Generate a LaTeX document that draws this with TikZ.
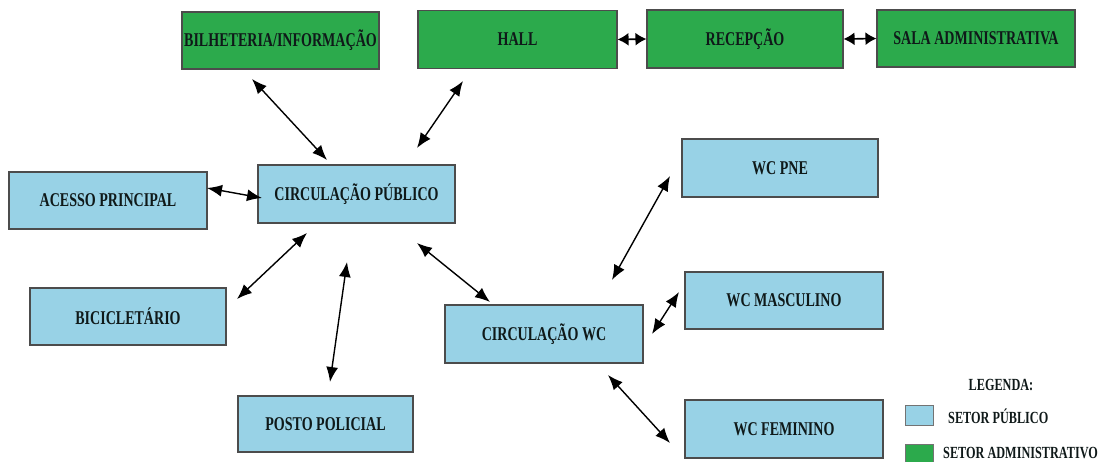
\documentclass[tikz,border=0pt]{standalone}
\usepackage{fontspec}
\newfontfamily\boxfont[FakeStretch=0.72]{Liberation Serif}
\usetikzlibrary{arrows.meta}
\definecolor{admgreen}{RGB}{44,170,76}
\definecolor{pubblue}{RGB}{152,210,230}
\definecolor{boxtext}{RGB}{15,25,25}
\tikzset{
  box/.style={draw=black!70,line width=1.1pt,inner sep=0pt,anchor=center,
    font=\boxfont\bfseries\fontsize{19.5}{19.5}\selectfont,text=boxtext},
  adm/.style={box,fill=admgreen},
  pub/.style={box,fill=pubblue},
  link/.style={line width=1.4pt,{Latex[length=15pt,width=12pt]}-{Latex[length=15pt,width=12pt]}},
  shortlink/.style={line width=1.6pt,{Latex[length=11pt,width=13pt]}-{Latex[length=11pt,width=13pt]}},
  legtext/.style={font=\boxfont\bfseries\fontsize{17}{17}\selectfont,text=boxtext,inner sep=0pt},
}
\begin{document}
\begin{tikzpicture}[x=1pt,y=-1pt]
\useasboundingbox (0,0) rectangle (1108,461);
% administrative boxes
\node[adm,minimum width=197pt,minimum height=57pt] (bil) at (280.5,40.5) {BILHETERIA/INFORMAÇÃO};
\node[adm,minimum width=199pt,minimum height=58pt] (hall) at (517.5,39.5) {HALL};
\node[adm,minimum width=196pt,minimum height=58pt] (rec) at (745,39) {RECEPÇÃO};
\node[adm,minimum width=198pt,minimum height=57pt] (sala) at (976,38.5) {SALA ADMINISTRATIVA};
% public boxes
\node[pub,minimum width=198pt,minimum height=57pt] (ace) at (108,200.5) {ACESSO PRINCIPAL};
\node[pub,minimum width=197pt,minimum height=58pt] (cpub) at (356.5,194) {CIRCULAÇÃO PÚBLICO};
\node[pub,minimum width=196pt,minimum height=58pt] (pne) at (780,168) {WC PNE};
\node[pub,minimum width=196pt,minimum height=57pt] (bic) at (128,316.5) {BICICLETÁRIO};
\node[pub,minimum width=198pt,minimum height=57pt] (masc) at (784,300.5) {WC MASCULINO};
\node[pub,minimum width=198pt,minimum height=58pt] (cwc) at (544,334) {CIRCULAÇÃO WC};
\node[pub,minimum width=175pt,minimum height=56pt] (posto) at (325.5,424) {POSTO POLICIAL};
\node[pub,minimum width=198pt,minimum height=58pt] (fem) at (784,429) {WC FEMININO};
% free arrow ends
\coordinate (b1) at (252,79);
\coordinate (b2) at (327,160);
\coordinate (h1) at (463,81);
\coordinate (h2) at (417,148);
\coordinate (a1) at (207,188);
\coordinate (a2) at (262,198);
\coordinate (c1) at (237,299);
\coordinate (c2) at (307,233);
\coordinate (p1) at (330,382);
\coordinate (p2) at (347,262);
\coordinate (w1) at (417,243);
\coordinate (w2) at (490,302);
\coordinate (n1) at (612,280);
\coordinate (n2) at (670,176);
\coordinate (m1) at (652,334);
\coordinate (m2) at (679,292);
\coordinate (f1) at (608,375);
\coordinate (f2) at (670,443);
% connectors
\draw[link] (b1) -- (b2);
\draw[link] (h1) -- (h2);
\draw[shortlink] (hall.east) -- (rec.west);
\draw[shortlink] (rec.east) -- (sala.west);
\draw[link] (a1) -- (a2);
\draw[link] (c1) -- (c2);
\draw[link] (p1) -- (p2);
\draw[link] (w1) -- (w2);
\draw[link] (n1) -- (n2);
\draw[link] (m1) -- (m2);
\draw[link] (f1) -- (f2);
% legend
\node[legtext] (leg) at (1001,385) {LEGENDA:};
\node[draw=black!55,line width=0.8pt,fill=pubblue,minimum width=28pt,minimum height=20pt,inner sep=0pt] (lp) at (919,415) {};
\node[legtext,anchor=west] (lpt) at (948,416) {SETOR PÚBLICO};
\node[draw=black!55,line width=0.8pt,fill=admgreen,minimum width=28pt,minimum height=20pt,inner sep=0pt] (la) at (919,454) {};
\node[legtext,anchor=west] (lat) at (943,453) {SETOR ADMINISTRATIVO};
\end{tikzpicture}
\end{document}
